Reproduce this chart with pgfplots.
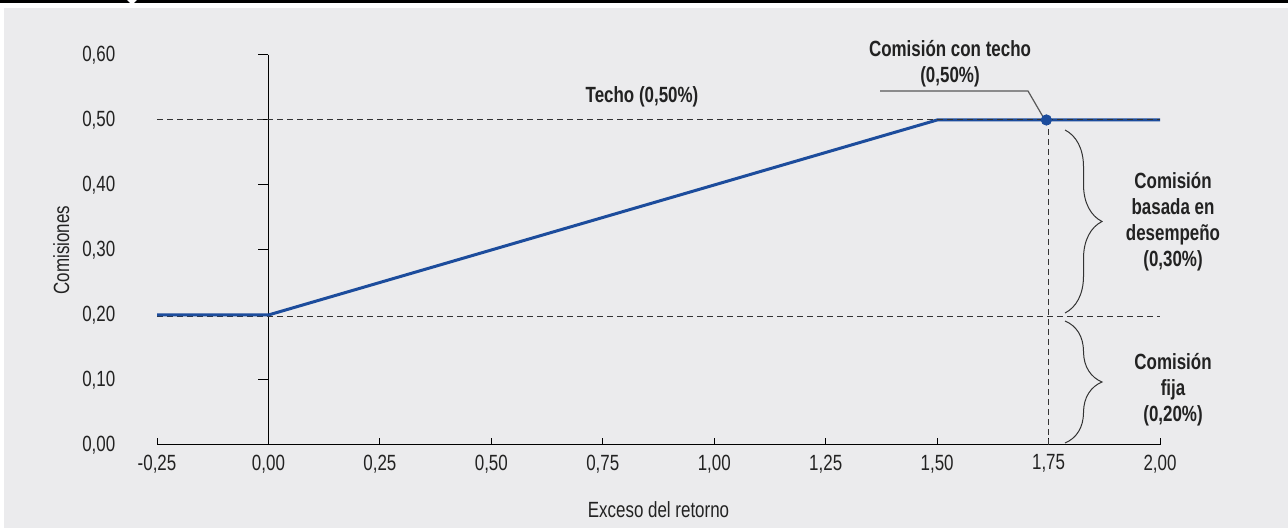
\documentclass[border=0pt]{standalone}
\usepackage{pgfplots}
\pgfplotsset{compat=1.18}
\usepackage{fontspec}
\setmainfont{Liberation Sans}[FakeStretch=0.77]
\usetikzlibrary{decorations.pathreplacing}
\definecolor{panel}{HTML}{EBEBED}
\definecolor{lineblue}{HTML}{1C4C9C}
\definecolor{dgray}{HTML}{333333}
\definecolor{txt}{HTML}{222222}
\begin{document}
\fontsize{11bp}{13bp}\selectfont
\begin{tikzpicture}[x=0.5bp,y=0.5bp]
\useasboundingbox (0,0) rectangle (1288,529);
\fill[white] (0,0) rectangle (1288,529);
\fill[panel] (4,1) rectangle (1288,521);
\fill[black] (0,526) rectangle (1288,529);
\fill[white] (127,529) -- (137,529) -- (134,526) -- (130,526) -- cycle;
\begin{axis}[
  at={(78.5bp,42bp)}, anchor=south west,
  scale only axis, width=501.5bp, height=195bp,
  xmin=-0.25, xmax=2.0, ymin=0, ymax=0.6,
  axis x line*=bottom, axis y line*=left,
  y axis line style={draw=none},
  x axis line style={-, black, line width=0.5bp},
  xtick={-0.25,0,0.25,0.5,0.75,1,1.25,1.5,1.75,2},
  xticklabels={{-0,25},{0,00},{0,25},{0,50},{0,75},{1,00},{1,25},{1,50},{1,75},{2,00}},
  ytick={0,0.1,0.2,0.3,0.4,0.5,0.6},
  yticklabels={{0,00},{0,10},{0,20},{0,30},{0,40},{0,50},{0,60}},
  ytick style={draw=none},
  xtick style={black, line width=0.5bp},
  tick align=inside,
  major tick length=3.5bp,
  yticklabel style={xshift=-17bp, font=\fontsize{11bp}{13bp}\selectfont, text=txt},
  xticklabel style={yshift=-1bp, font=\fontsize{11bp}{13bp}\selectfont, text=txt},
  xlabel={Exceso del retorno},
  ylabel={Comisiones},
  xlabel style={yshift=-7bp, font=\fontsize{11bp}{13bp}\selectfont, text=txt},
  ylabel style={yshift=-1bp, font=\fontsize{11bp}{13bp}\selectfont, text=txt},
  clip=false,
]
\draw[black, line width=0.5bp] (axis cs:0,0) -- (axis cs:0,0.6);
\pgfplotsinvokeforeach{0,0.1,0.2,0.3,0.4,0.5,0.6}{
  \draw[black, line width=0.5bp] (axis cs:0,#1) -- ([xshift=-5bp]axis cs:0,#1);
}
\addplot[dgray, line width=0.5bp, dash pattern=on 3bp off 2bp] coordinates {(-0.25,0.198) (2.0,0.198)};
\addplot[dgray, line width=0.5bp, dash pattern=on 3bp off 2bp] coordinates {(1.75,0) (1.75,0.5)};
\addplot[lineblue, line width=1.5bp] coordinates {(-0.25,0.2) (0,0.2) (1.5,0.5) (2.0,0.5)};
\addplot[dgray, line width=0.5bp, dash pattern=on 3bp off 2bp] coordinates {(-0.25,0.5) (2.0,0.5)};
\end{axis}
\draw[gray!70!black, line width=0.6bp] (880,438) -- (1028,438) -- (1046,407);
\begin{axis}[
  at={(78.5bp,42bp)}, anchor=south west,
  scale only axis, width=501.5bp, height=195bp,
  xmin=-0.25, xmax=2.0, ymin=0, ymax=0.6,
  hide axis, clip=false,
]
\addplot[only marks, mark=*, mark size=2.6bp, lineblue] coordinates {(1.745,0.5)};
\end{axis}
\draw[dgray, line width=0.5bp, decorate, decoration={brace, amplitude=18.5bp}] (1065,399) -- (1065,216);
\draw[dgray, line width=0.5bp, decorate, decoration={brace, amplitude=18.5bp}] (1065,208) -- (1065,86);
\node[align=center, text=txt, font=\bfseries] at (950,465) {Comisión con techo\\(0,50\%)};
\node[align=center, text=txt, font=\bfseries] at (642,432) {Techo (0,50\%)};
\node[align=center, text=txt, font=\bfseries] at (1173,307.5) {Comisión\\basada en\\desempeño\\(0,30\%)};
\node[align=center, text=txt, font=\bfseries] at (1173,139) {Comisión\\fija\\(0,20\%)};
\end{tikzpicture}
\end{document}
